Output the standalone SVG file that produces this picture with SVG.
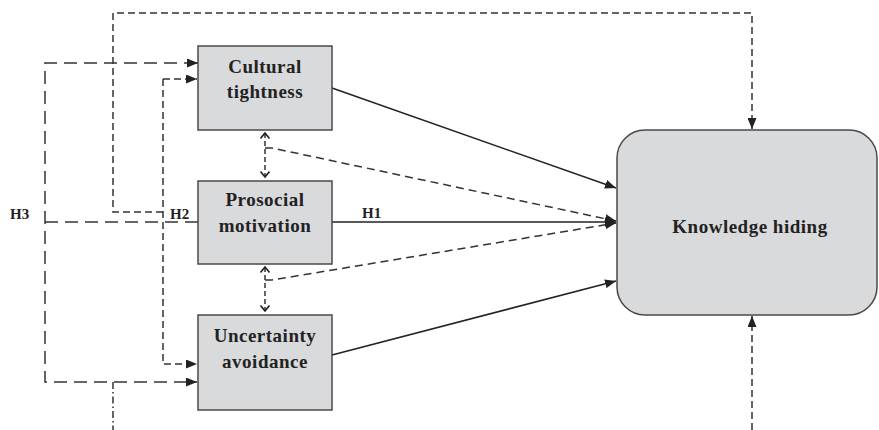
<svg xmlns="http://www.w3.org/2000/svg" width="879" height="430" viewBox="0 0 879 430">
<defs>
<style>
.box{fill:#d9dadc;stroke:#4a4a4a;stroke-width:1.5}
.t{font-family:"Liberation Serif","Times New Roman",serif;font-weight:bold;font-size:19px;fill:#222;text-anchor:middle;letter-spacing:0.5px}
.h{font-family:"Liberation Serif","Times New Roman",serif;font-weight:bold;font-size:15px;fill:#222}
.solid{fill:none;stroke:#222;stroke-width:1.5}
.sd{fill:none;stroke:#333;stroke-width:1.5;stroke-dasharray:7 4}
.ld{fill:none;stroke:#333;stroke-width:1.5;stroke-dasharray:13 7}
.md{fill:none;stroke:#333;stroke-width:1.5;stroke-dasharray:8 5}
.dd{fill:none;stroke:#333;stroke-width:1.5;stroke-dasharray:7 3 1.5 3}
.vd{fill:none;stroke:#333;stroke-width:1.5;stroke-dasharray:5 3}
</style>
<marker id="ar" markerUnits="userSpaceOnUse" markerWidth="11" markerHeight="9" refX="11" refY="4.5" orient="auto">
<path d="M0,0 L11,4.5 L0,9 z" fill="#222"/>
</marker>
<marker id="op" markerUnits="userSpaceOnUse" markerWidth="9" markerHeight="12" refX="6" refY="5" orient="auto-start-reverse">
<path d="M0.5,0.5 L6,5 L0.5,9.5" fill="none" stroke="#222" stroke-width="1.6"/>
</marker>
</defs>

<g id="connectors">
<path class="sd" d="M163,212 L113,212 L113,13 L752,13 L752,129" marker-end="url(#ar)"/>
<path class="sd" d="M163,79 L197,79" marker-end="url(#ar)"/>
<path class="sd" d="M163,79 L163,364 L197,364" marker-end="url(#ar)"/>
<path class="ld" d="M197,63 L45,63 L45,382 L197,382" marker-end="url(#ar)"/>
<path class="ld" d="M197,63 L198,63" marker-end="url(#ar)"/>
<path class="ld" d="M45,222 L198,222"/>
<path class="dd" d="M113,382 L113,430"/>
<path class="sd" d="M752,430 L752,316" marker-end="url(#ar)"/>
<path class="solid" d="M332,88 L616,188" marker-end="url(#ar)"/>
<path class="solid" d="M332,222 L616,222" marker-end="url(#ar)"/>
<path class="solid" d="M332,355 L616,281" marker-end="url(#ar)"/>
<path class="md" d="M265,148 L272,148 L616,221" marker-end="url(#ar)"/>
<path class="md" d="M265,280 L272,280 L616,223" marker-end="url(#ar)"/>
<path class="vd" d="M265,133 L265,177" marker-start="url(#op)" marker-end="url(#op)"/>
<path class="vd" d="M265,267 L265,311" marker-start="url(#op)" marker-end="url(#op)"/>
</g>

<g id="cultural-tightness">
<rect class="box" x="198" y="46" width="134" height="84"/>
<text class="t" x="265" y="73">Cultural</text>
<text class="t" x="265" y="98">tightness</text>
</g>
<g id="prosocial-motivation">
<rect class="box" x="198" y="181" width="134" height="83"/>
<text class="t" x="265" y="206">Prosocial</text>
<text class="t" x="265" y="232">motivation</text>
</g>
<g id="uncertainty-avoidance">
<rect class="box" x="198" y="315" width="134" height="95"/>
<text class="t" x="265" y="342">Uncertainty</text>
<text class="t" x="265" y="368">avoidance</text>
</g>
<g id="knowledge-hiding">
<rect class="box" x="617" y="130" width="260" height="185" rx="28"/>
<text class="t" x="750" y="233">Knowledge hiding</text>
</g>
<g id="labels">
<text class="h" x="10" y="219">H3</text>
<text class="h" x="170" y="219">H2</text>
<text class="h" x="362" y="218">H1</text>
</g>
</svg>
